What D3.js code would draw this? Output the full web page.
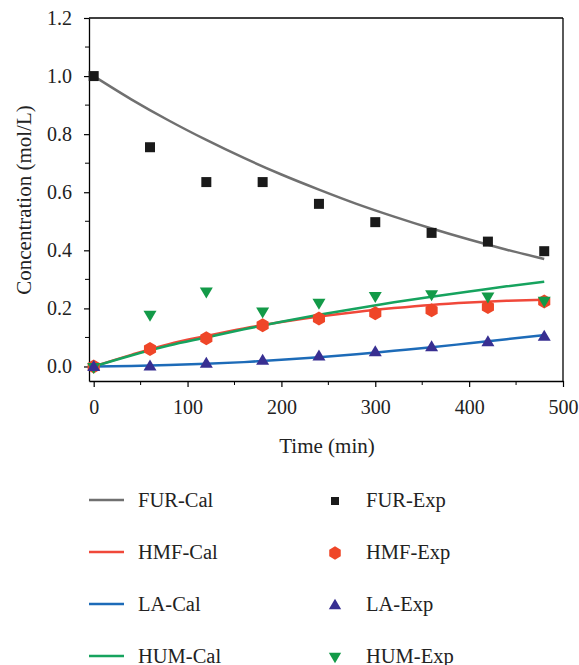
<!DOCTYPE html>
<html>
<head>
<meta charset="utf-8">
<script src="https://cdn.jsdelivr.net/npm/d3@7"></script>
<style>
  body { margin: 0; background: #fff; }
  svg { display: block; font-family: "Liberation Serif", "DejaVu Serif", serif; }
</style>
</head>
<body>
<div id="chart"></div>
<script>
// time points (min)
const expTime = [0, 60, 120, 180, 240, 300, 360, 420, 480];
const furExp = [1.0, 0.755, 0.635, 0.635, 0.56, 0.497, 0.46, 0.43, 0.397];
const hmfExp = [0.0, 0.06, 0.097, 0.142, 0.165, 0.183, 0.194, 0.205, 0.224];
const laExp  = [0.0, 0.001, 0.011, 0.021, 0.036, 0.05, 0.068, 0.085, 0.104];
const humExp = [-0.003, 0.177, 0.257, 0.188, 0.218, 0.241, 0.247, 0.24, 0.225];

const calTime = [0, 40, 80, 120, 160, 200, 240, 280, 320, 360, 400, 440, 480];
const furCal = [1.0, 0.92, 0.847, 0.78, 0.718, 0.661, 0.609, 0.56, 0.516, 0.475, 0.437, 0.402, 0.37];
const hmfCal = [0.0, 0.04, 0.077, 0.105, 0.131, 0.153, 0.172, 0.188, 0.201, 0.212, 0.22, 0.226, 0.23];
const laCal  = [0.0, 0.002, 0.005, 0.009, 0.015, 0.023, 0.032, 0.042, 0.054, 0.066, 0.08, 0.094, 0.108];
const humCal = [0.0, 0.038, 0.072, 0.1, 0.128, 0.154, 0.178, 0.2, 0.221, 0.24, 0.258, 0.276, 0.292];

const series = [
  {name: 'FUR', cal: furCal, exp: furExp, line: '#707070', mark: '#1a1a1a', shape: 'square'},
  {name: 'HMF', cal: hmfCal, exp: hmfExp, line: '#f0483a', mark: '#ef4628', shape: 'hex'},
  {name: 'LA',  cal: laCal,  exp: laExp,  line: '#1d6bb8', mark: '#382f92', shape: 'up'},
  {name: 'HUM', cal: humCal, exp: humExp, line: '#16a35e', mark: '#139a48', shape: 'down'}
];

const W = 579, H = 665;
const plot = {left: 89, right: 563, top: 18, bottom: 381};

const svg = d3.select('#chart').append('svg')
  .attr('width', W).attr('height', H);

const x = d3.scaleLinear().domain([-5, 500]).range([plot.left, plot.right]);
const y = d3.scaleLinear().domain([-0.05, 1.2]).range([plot.bottom, plot.top]);

function markerPath(shape, cx, cy){
  if(shape === 'square'){
    const s = 10;
    return `M${cx - s/2},${cy - s/2}h${s}v${s}h${-s}Z`;
  }
  if(shape === 'hex'){
    const r = 7;
    let pts = d3.range(6).map(i => {
      const a = Math.PI / 3 * i + Math.PI / 6;
      return [cx + r * Math.cos(a), cy + r * Math.sin(a)];
    });
    return 'M' + pts.map(p => p.join(',')).join('L') + 'Z';
  }
  const h = 11, w = 13;
  if(shape === 'up'){
    return `M${cx},${cy - h*0.6}L${cx + w/2},${cy + h*0.4}L${cx - w/2},${cy + h*0.4}Z`;
  }
  return `M${cx},${cy + h*0.6}L${cx + w/2},${cy - h*0.4}L${cx - w/2},${cy - h*0.4}Z`;
}

// axes
const gx = svg.append('g').attr('transform', `translate(0,${plot.bottom})`);
gx.call(d3.axisBottom(x).tickValues(d3.range(0, 501, 100)).tickSize(6).tickSizeOuter(0).tickPadding(13));
gx.append('g').selectAll('line').data(d3.range(50, 500, 100)).join('line')
  .attr('x1', d => x(d)).attr('x2', d => x(d)).attr('y1', 0).attr('y2', 4).attr('stroke', '#000');

const gy = svg.append('g').attr('transform', `translate(${plot.left},0)`);
gy.call(d3.axisLeft(y).tickValues(d3.range(0, 1.21, 0.2)).tickFormat(d3.format('.1f')).tickSize(5).tickSizeOuter(0).tickPadding(12));
gy.append('g').selectAll('line').data(d3.range(0.1, 1.2, 0.2)).join('line')
  .attr('y1', d => y(d)).attr('y2', d => y(d)).attr('x1', 0).attr('x2', -4).attr('stroke', '#000');

svg.selectAll('.domain').attr('stroke-width', 1.3);
svg.selectAll('.tick line').attr('stroke-width', 1.2);
svg.selectAll('.tick text').attr('font-size', 20).attr('fill', '#222')
  .attr('font-family', '"Liberation Serif", serif');

// frame top + right
svg.append('line').attr('x1', plot.left).attr('x2', plot.right).attr('y1', plot.top).attr('y2', plot.top)
  .attr('stroke', '#000').attr('stroke-width', 1.3);
svg.append('line').attr('x1', plot.right).attr('x2', plot.right).attr('y1', plot.top).attr('y2', plot.bottom)
  .attr('stroke', '#000').attr('stroke-width', 1.3);

// axis titles
svg.append('text').attr('x', 327).attr('y', 453)
  .attr('text-anchor', 'middle').attr('font-size', 21).attr('fill', '#222').text('Time (min)');
svg.append('text').attr('transform', `translate(31,200) rotate(-90)`)
  .attr('text-anchor', 'middle').attr('font-size', 21).attr('fill', '#222').text('Concentration (mol/L)');

// lines
const line = d3.line().x((d, i) => x(calTime[i])).y(d => y(d)).curve(d3.curveMonotoneX);
series.forEach(s => {
  svg.append('path').attr('d', line(s.cal)).attr('fill', 'none')
    .attr('stroke', s.line).attr('stroke-width', 2.5);
});

// points
[series[0], series[1], series[3], series[2]].forEach(s => {
  svg.append('g').selectAll('path').data(s.exp).join('path')
    .attr('d', (d, i) => markerPath(s.shape, x(expTime[i]), y(d)))
    .attr('fill', s.mark);
});

// legend
const legY = [500, 552, 604, 656];
series.forEach((s, i) => {
  const g = svg.append('g');
  g.append('line').attr('x1', 89).attr('x2', 124).attr('y1', legY[i]).attr('y2', legY[i])
    .attr('stroke', s.line).attr('stroke-width', 2.5);
  g.append('text').attr('x', 138).attr('y', legY[i] + 7).attr('font-size', 20.5).attr('fill', '#222')
    .text(s.name + '-Cal');
  const sc = s.shape === 'square' ? 0.8 : 0.95;
  g.append('path').attr('d', markerPath(s.shape, 0, 0))
    .attr('transform', `translate(335,${legY[i] + 1}) scale(${sc})`).attr('fill', s.mark);
  g.append('text').attr('x', 366).attr('y', legY[i] + 7).attr('font-size', 20.5).attr('fill', '#222')
    .text(s.name + '-Exp');
});
</script>
</body>
</html>
